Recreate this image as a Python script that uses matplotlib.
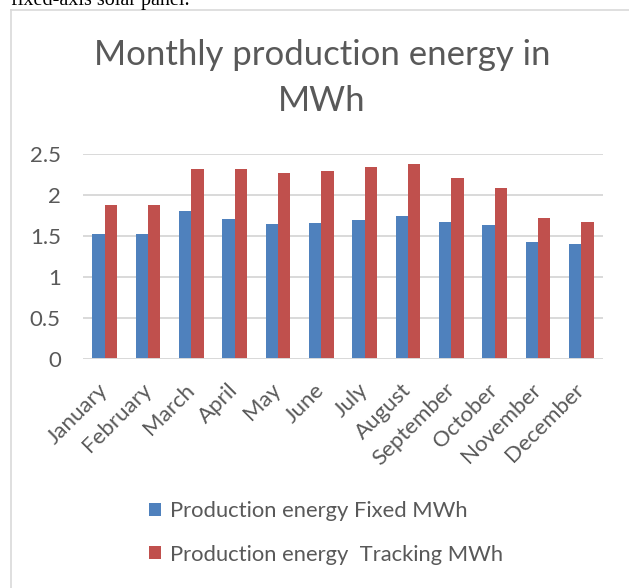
import numpy as np
import matplotlib
matplotlib.use("Agg")
import matplotlib.pyplot as plt
from matplotlib.patches import Patch
from matplotlib.lines import Line2D

# data
months = ["January", "February", "March", "April", "May", "June",
          "July", "August", "September", "October", "November", "December"]
fixed_mwh = [1.52, 1.52, 1.80, 1.71, 1.65, 1.66, 1.69, 1.74, 1.67, 1.63, 1.42, 1.40]
tracking_mwh = [1.87, 1.88, 2.31, 2.31, 2.27, 2.29, 2.34, 2.37, 2.21, 2.08, 1.72, 1.67]
y_ticks = [0, 0.5, 1, 1.5, 2, 2.5]
y_tick_labels = ["0", "0.5", "1", "1.5", "2", "2.5"]
series_names = ["Production energy Fixed MWh", "Production energy  Tracking MWh"]

blue = "#4F81BD"
red = "#C0504D"
grey_text = "#595959"
grid_grey = "#D9D9D9"

plt.rcParams['font.family'] = ['Lato', 'DejaVu Sans']

W, H = 629, 588
fig = plt.figure(figsize=(W / 100, H / 100), dpi=100)

# plot area in pixels: x 83..603, y 153.7..359
ax = fig.add_axes([83 / W, 1 - 359 / H, (603 - 83) / W, (359 - 153.7) / H])

x = np.arange(len(months))
bar_w = 1 / 3.5  # Excel gap width 150%
ax.bar(x - bar_w / 2, fixed_mwh, width=bar_w, color=blue, zorder=3)
ax.bar(x + bar_w / 2, tracking_mwh, width=bar_w, color=red, zorder=3)

ax.set_xlim(-0.5, len(months) - 0.5)
ax.set_ylim(0, 2.5)
ax.set_yticks(y_ticks)
ax.set_yticklabels(y_tick_labels)
ax.set_xticks(x)
ax.set_xticklabels(months, rotation=45, ha='right', va='center', rotation_mode='anchor')
ax.tick_params(axis='both', length=0, labelsize=16, colors=grey_text)
ax.tick_params(axis='y', pad=16)
ax.tick_params(axis='x', pad=20)
ax.yaxis.grid(True, color=grid_grey, linewidth=1.4, zorder=0)
for s in ax.spines.values():
    s.set_visible(False)
ax.axhline(0, color=grid_grey, linewidth=1.4, zorder=4)

# title
fig.text(322 / W, 1 - 55 / H, "Monthly production energy in", ha='center', va='center',
         fontsize=25, color=grey_text)
fig.text(322 / W, 1 - 101 / H, "MWh", ha='center', va='center',
         fontsize=25, color=grey_text)

# legend
handles = [Patch(facecolor=blue), Patch(facecolor=red)]
fig.legend(handles, series_names, loc='center left', bbox_to_anchor=(149 / W, 1 - 533 / H),
           frameon=False, fontsize=15.8, labelcolor=grey_text, handlelength=0.55,
           handleheight=0.55, handletextpad=0.4, labelspacing=1.05, borderpad=0,
           borderaxespad=0)

# chart frame and cropped line of document text above it
fig.add_artist(Line2D([11 / W, 11 / W], [0, 1 - 10 / H], color="#D9D9D9", linewidth=1.2))
fig.add_artist(Line2D([11 / W, 1], [1 - 10 / H, 1 - 10 / H], color="#D9D9D9", linewidth=1.2))
fig.text(11 / W, 1 - 5 / H, "fixed-axis solar panel.", ha='left', va='baseline',
         fontsize=14.5, color='black', family=['Liberation Serif'])

fig.savefig("out.png", dpi=100)
